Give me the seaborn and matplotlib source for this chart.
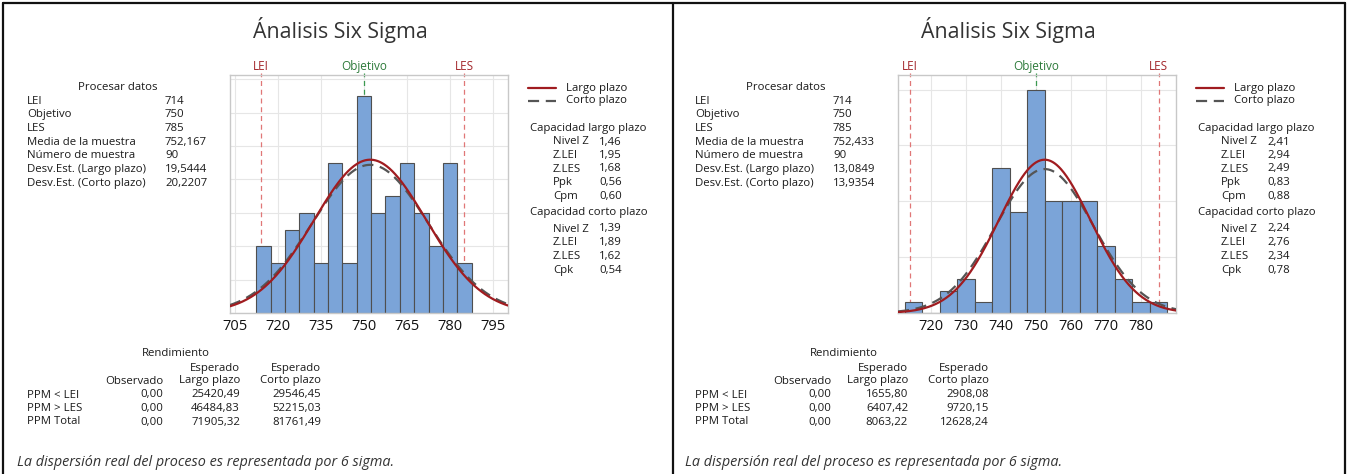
import numpy as np
import pandas as pd
import matplotlib
matplotlib.use("Agg")
import matplotlib.pyplot as plt
import matplotlib.transforms as mtransforms
from matplotlib.lines import Line2D
import seaborn as sns

# ---------------- data ----------------
bin_centers = [715, 720, 725, 730, 735, 740, 745, 750, 755, 760, 765, 770, 775, 780, 785]
counts_left = [4, 3, 5, 6, 3, 9, 3, 13, 6, 7, 9, 6, 4, 9, 3]
counts_right = [1, 0, 2, 3, 1, 13, 9, 20, 10, 10, 10, 6, 3, 1, 1]
bin_width = 5

lei, target, les = 714, 750, 785
n_sample = 90
mean_left, sd_lt_left, sd_st_left = 752.167, 19.5444, 20.2207
mean_right, sd_lt_right, sd_st_right = 752.433, 13.0849, 13.9354

xticks_left = [705, 720, 735, 750, 765, 780, 795]
xticks_right = [720, 730, 740, 750, 760, 770, 780]

title = "Ánalisis Six Sigma"
process_header = "Procesar datos"
process_labels = ["LEI", "Objetivo", "LES", "Media de la muestra", "Número de muestra",
                  "Desv.Est. (Largo plazo)", "Desv.Est. (Corto plazo)"]
process_values_left = ["714", "750", "785", "752,167", "90", "19,5444", "20,2207"]
process_values_right = ["714", "750", "785", "752,433", "90", "13,0849", "13,9354"]

legend_labels = ["Largo plazo", "Corto plazo"]
lt_header = "Capacidad largo plazo"
lt_labels = ["Nivel Z", "Z.LEI", "Z.LES", "Ppk", "Cpm"]
lt_values_left = ["1,46", "1,95", "1,68", "0,56", "0,60"]
lt_values_right = ["2,41", "2,94", "2,49", "0,83", "0,88"]
st_header = "Capacidad corto plazo"
st_labels = ["Nivel Z", "Z.LEI", "Z.LES", "Cpk"]
st_values_left = ["1,39", "1,89", "1,62", "0,54"]
st_values_right = ["2,24", "2,76", "2,34", "0,78"]

ppm_labels = ["PPM < LEI", "PPM > LES", "PPM Total"]
ppm_obs_left = ["0,00", "0,00", "0,00"]
ppm_lt_left = ["25420,49", "46484,83", "71905,32"]
ppm_st_left = ["29546,45", "52215,03", "81761,49"]
ppm_obs_right = ["0,00", "0,00", "0,00"]
ppm_lt_right = ["1655,80", "6407,42", "8063,22"]
ppm_st_right = ["2908,08", "9720,15", "12628,24"]

footer = "La dispersión real del proceso es representada por 6 sigma."

# ---------------- style ----------------
sns.set_theme(style="white")
plt.rcParams["font.family"] = ["Open Sans", "DejaVu Sans"]

W, H = 1348, 474
fig = plt.figure(figsize=(W / 100, H / 100), dpi=100)
fig.patch.set_facecolor("white")

TXT = "#1a1a1a"
BODY = 8.2


def T(x, y, s, **kw):
    kw.setdefault("fontsize", BODY)
    kw.setdefault("color", TXT)
    kw.setdefault("va", "center")
    fig.text(x / W, 1 - y / H, s, **kw)


def L(x0, x1, y0, y1, **kw):
    fig.add_artist(Line2D([x0 / W, x1 / W], [1 - y0 / H, 1 - y1 / H],
                          transform=fig.transFigure, **kw))


def panel(dx, counts, mean, sd_lt, sd_st, xlim, ylim_top, xticks, ystep,
          pvals, ltv, stv, pobs, plt_, pst):
    # title
    T(340 + dx, 30, title, fontsize=15.3, ha="center", color="#333333")

    # process data
    T(118 + dx, 88, process_header, ha="center")
    for i, (lab, val) in enumerate(zip(process_labels, pvals)):
        y = 101 + i * 13.7
        T(27 + dx, y, lab, ha="left")
        T(165 + dx, y, val, ha="left")

    # histogram
    ax = fig.add_axes([(230 + dx) / W, 1 - 313 / H, 278 / W, 238 / H])
    edges = [c - bin_width / 2 for c in bin_centers] + [bin_centers[-1] + bin_width / 2]
    df = pd.DataFrame({"valor": bin_centers, "frecuencia": counts})
    sns.histplot(data=df, x="valor", weights="frecuencia", bins=edges, ax=ax,
                 color="#7BA4D8", edgecolor="#4f4f4f", linewidth=0.8,
                 alpha=1.0, zorder=2)
    xs = np.linspace(xlim[0], xlim[1], 400)
    scale = n_sample * bin_width
    y_st = scale * np.exp(-0.5 * ((xs - mean) / sd_st) ** 2) / (sd_st * np.sqrt(2 * np.pi))
    y_lt = scale * np.exp(-0.5 * ((xs - mean) / sd_lt) ** 2) / (sd_lt * np.sqrt(2 * np.pi))
    sns.lineplot(x=xs, y=y_st, ax=ax, color="#555555", lw=1.6,
                 linestyle=(0, (5, 3)), zorder=3)
    sns.lineplot(x=xs, y=y_lt, ax=ax, color="#A01C20", lw=1.6, zorder=4)

    ax.set_xlim(*xlim)
    ax.set_ylim(0, ylim_top)
    ax.set_xticks(xticks)
    ax.set_xticklabels([str(t) for t in xticks])
    ax.set_yticks(np.arange(0, ylim_top, ystep))
    ax.set_yticklabels([])
    ax.set_xlabel("")
    ax.set_ylabel("")
    ax.grid(True, color="#e6e6e6", lw=0.8)
    ax.set_axisbelow(True)
    ax.tick_params(axis="x", length=0, labelsize=10.5, colors="#111111", pad=4)
    ax.tick_params(axis="y", length=0)
    for sp in ax.spines.values():
        sp.set_color("#c8c8c8")
        sp.set_linewidth(1.0)

    tr = mtransforms.blended_transform_factory(ax.transData, ax.transAxes)
    for xv, lab, lc, tc in [(lei, "LEI", "#E07777", "#A3262B"),
                            (target, "Objetivo", "#3C9A50", "#2D7A3A"),
                            (les, "LES", "#E07777", "#A3262B")]:
        ax.plot([xv, xv], [0, 1.01], transform=tr, clip_on=False, color=lc,
                lw=0.9, linestyle=(0, (4, 3)), zorder=1)
        ax.text(xv, 1.01, lab, transform=tr, ha="center", va="bottom",
                color=tc, fontsize=8.5)

    # legend
    L(528 + dx, 556 + dx, 88, 88, color="#A01C20", lw=1.6)
    L(528 + dx, 556 + dx, 101, 101, color="#555555", lw=1.6, linestyle=(0, (5, 3)))
    T(566 + dx, 88, legend_labels[0])
    T(566 + dx, 101, legend_labels[1])

    # capability
    T(530 + dx, 128, lt_header)
    for i, (lab, val) in enumerate(zip(lt_labels, ltv)):
        y = 142 + i * 13.5
        T(553 + dx, y, lab)
        T(599 + dx, y, val)
    T(530 + dx, 213, st_header)
    for i, (lab, val) in enumerate(zip(st_labels, stv)):
        y = 229 + i * 13.7
        T(553 + dx, y, lab)
        T(599 + dx, y, val)

    # rendimiento
    T(176 + dx, 354, "Rendimiento", ha="center")
    T(240 + dx, 368, "Esperado", ha="right")
    T(321 + dx, 368, "Esperado", ha="right")
    T(163 + dx, 381, "Observado", ha="right")
    T(240 + dx, 381, "Largo plazo", ha="right")
    T(321 + dx, 381, "Corto plazo", ha="right")
    for i, lab in enumerate(ppm_labels):
        y = 395 + i * 13.5
        T(27 + dx, y, lab)
        T(163 + dx, y, pobs[i], ha="right")
        T(240 + dx, y, plt_[i], ha="right")
        T(321 + dx, y, pst[i], ha="right")

    T(17 + dx, 462, footer, fontsize=10.4, style="italic", color="#333333")


panel(0, counts_left, mean_left, sd_lt_left, sd_st_left, (703.3, 800.2), 14.26,
      xticks_left, 2, process_values_left, lt_values_left, st_values_left,
      ppm_obs_left, ppm_lt_left, ppm_st_left)
panel(668, counts_right, mean_right, sd_lt_right, sd_st_right, (710.5, 790.0), 21.3,
      xticks_right, 5, process_values_right, lt_values_right, st_values_right,
      ppm_obs_right, ppm_lt_right, ppm_st_right)

# panel borders
for x in (2.5, 673, 1344.5):
    L(x, x, 3, 474, color="#111111", lw=1.6)
L(2.5, 1344.5, 3, 3, color="#111111", lw=1.6)

fig.savefig("out.png", dpi=100, facecolor="white")
